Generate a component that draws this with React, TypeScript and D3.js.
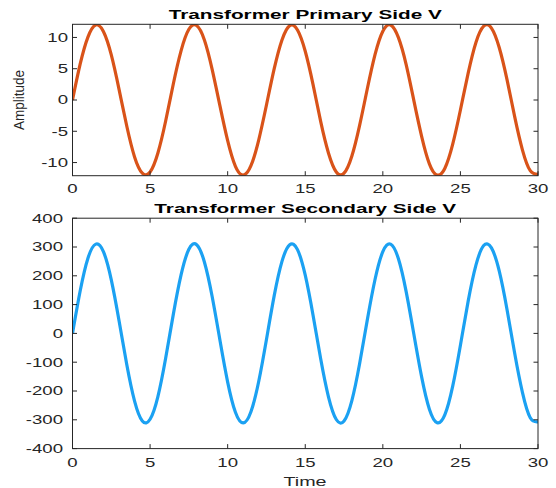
import React from "react";
import { scaleLinear, line, curveNatural, range } from "d3";

// sample times (s)
const time = range(0, 30.01, 0.5).map((t) => +t.toFixed(1));

// primary side voltage
const primaryV = [
  0, 5.8, 10.1, 12.0, 10.9, 7.2, 1.7, -4.2, -9.1, -11.7, -11.5, -8.5, -3.4, 2.6, 7.9, 11.3,
  11.9, 9.6, 4.9, -0.9, -6.5, -10.6, -12.0, -10.5, -6.4, -0.8, 5.0, 9.6, 11.9, 11.2, 7.8,
  2.5, -3.5, -8.5, -11.5, -11.7, -9.0, -4.1, 1.8, 7.3, 11.0, 12.0, 10.0, 5.7, -0.1, -5.8,
  -10.2, -12.0, -10.9, -7.1, -1.6, 4.3, 9.2, 11.8, 11.5, 8.4, 3.3, -2.7, -8.0, -11.3, -11.9,
];

// secondary side voltage
const secondaryV = [
  0, 149, 262, 310, 283, 186, 44, -109, -235, -304, -298, -220, -87, 67, 204, 292, 308, 248,
  128, -23, -169, -274, -311, -272, -167, -21, 131, 250, 308, 291, 202, 64, -90, -221, -299,
  -304, -234, -106, 47, 188, 284, 310, 260, 146, -3, -151, -263, -310, -282, -184, -41, 112,
  237, 305, 297, 217, 84, -70, -206, -293, -307,
];

const xTicks = [0, 5, 10, 15, 20, 25, 30];
const topYTicks = [-10, -5, 0, 5, 10];
const bottomYTicks = [-400, -300, -200, -100, 0, 100, 200, 300, 400];

const W = 556;
const H = 488;
const left = 72.5;
const right = 538;
const axisColor = "#262626";
const font = "'Liberation Sans', Arial, Helvetica, sans-serif";

// text is drawn wider than tall, like in the original picture
const Txt = ({ x, y, sx, size, anchor, weight, fill, children }: any) => (
  <text
    transform={`translate(${x},${y}) scale(${sx},1)`}
    fontSize={size}
    fontFamily={font}
    fontWeight={weight || "normal"}
    textAnchor={anchor}
    fill={fill || axisColor}
  >
    {children}
  </text>
);

const Panel = ({ id, top, bottom, domain, yTicks, values, color, title, labelRight, xLabelY, titleY }: any) => {
  const x = scaleLinear().domain([0, 30]).range([left, right]);
  const y = scaleLinear().domain(domain).range([bottom, top]);
  const path = line<number>()
    .x((_, i) => x(time[i]))
    .y((d) => y(d))
    .curve(curveNatural)(values);
  const tick = 4.5;

  return (
    <g>
      <defs>
        <clipPath id={id}>
          <rect x={left} y={top} width={right - left} height={bottom - top} />
        </clipPath>
      </defs>
      <rect x={left} y={top} width={right - left} height={bottom - top} fill="#fff" />
      <path d={path || ""} fill="none" stroke={color} strokeWidth={3.2} strokeLinejoin="round" clipPath={`url(#${id})`} />
      <rect x={left} y={top} width={right - left} height={bottom - top} fill="none" stroke={axisColor} strokeWidth={1} />
      {xTicks.map((t) => (
        <g key={"x" + t}>
          <line x1={x(t)} x2={x(t)} y1={bottom} y2={bottom - tick} stroke={axisColor} />
          <line x1={x(t)} x2={x(t)} y1={top} y2={top + tick} stroke={axisColor} />
          <Txt x={x(t)} y={xLabelY} sx={1.55} size={12} anchor="middle">
            {t}
          </Txt>
        </g>
      ))}
      {yTicks.map((t: number) => (
        <g key={"y" + t}>
          <line x1={left} x2={left + tick} y1={y(t)} y2={y(t)} stroke={axisColor} />
          <line x1={right} x2={right - tick} y1={y(t)} y2={y(t)} stroke={axisColor} />
          <Txt x={labelRight} y={y(t) + 4.3} sx={1.55} size={12} anchor="end">
            {t}
          </Txt>
        </g>
      ))}
      <Txt x={(left + right) / 2} y={titleY} sx={1.66} size={12.5} anchor="middle" weight="bold" fill="#000">
        {title}
      </Txt>
    </g>
  );
};

export default function App() {
  return (
    <svg
      width={W}
      height={H}
      viewBox={`0 0 ${W} ${H}`}
      style={{ position: "absolute", left: 0, top: 0, background: "#fff" }}
    >
      <rect width={W} height={H} fill="#fff" />
      <Panel
        id="clipTop"
        top={24.3}
        bottom={175.7}
        domain={[-12.1, 12.1]}
        yTicks={topYTicks}
        values={primaryV}
        color="#D95319"
        title="Transformer Primary Side V"
        labelRight={68}
        xLabelY={193.3}
        titleY={19}
      />
      <Panel
        id="clipBottom"
        top={218.2}
        bottom={448.6}
        domain={[-400, 400]}
        yTicks={bottomYTicks}
        values={secondaryV}
        color="#1BA1F2"
        title="Transformer Secondary Side V"
        labelRight={63}
        xLabelY={466.7}
        titleY={213.3}
      />
      <text
        transform="translate(23.8,100) rotate(-90) scale(1,1.15)"
        fontSize={13.5}
        fontFamily={font}
        textAnchor="middle"
        fill={axisColor}
      >
        Amplitude
      </text>
      <Txt x={305} y={486} sx={1.52} size={13} anchor="middle">
        Time
      </Txt>
    </svg>
  );
}
